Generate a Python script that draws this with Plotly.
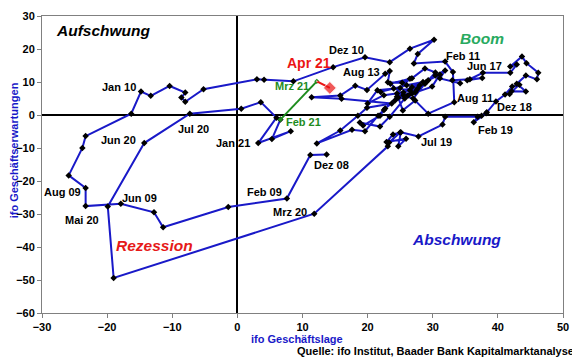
import plotly.graph_objects as go

monate = [
    "Dez 08",
    "Jan 09", "Feb 09", "Mrz 09", "Apr 09", "Mai 09", "Jun 09", "Jul 09", "Aug 09", "Sep 09", "Okt 09", "Nov 09", "Dez 09",
    "Jan 10", "Feb 10", "Mrz 10", "Apr 10", "Mai 10", "Jun 10", "Jul 10", "Aug 10", "Sep 10", "Okt 10", "Nov 10", "Dez 10",
    "Jan 11", "Feb 11", "Mrz 11", "Apr 11", "Mai 11", "Jun 11", "Jul 11", "Aug 11", "Sep 11", "Okt 11", "Nov 11", "Dez 11",
    "Jan 12", "Feb 12", "Mrz 12", "Apr 12", "Mai 12", "Jun 12", "Jul 12", "Aug 12", "Sep 12", "Okt 12", "Nov 12", "Dez 12",
    "Jan 13", "Feb 13", "Mrz 13", "Apr 13", "Mai 13", "Jun 13", "Jul 13", "Aug 13", "Sep 13", "Okt 13", "Nov 13", "Dez 13",
    "Jan 14", "Feb 14", "Mrz 14", "Apr 14", "Mai 14", "Jun 14", "Jul 14", "Aug 14", "Sep 14", "Okt 14", "Nov 14", "Dez 14",
    "Jan 15", "Feb 15", "Mrz 15", "Apr 15", "Mai 15", "Jun 15", "Jul 15", "Aug 15", "Sep 15", "Okt 15", "Nov 15", "Dez 15",
    "Jan 16", "Feb 16", "Mrz 16", "Apr 16", "Mai 16", "Jun 16", "Jul 16", "Aug 16", "Sep 16", "Okt 16", "Nov 16", "Dez 16",
    "Jan 17", "Feb 17", "Mrz 17", "Apr 17", "Mai 17", "Jun 17", "Jul 17", "Aug 17", "Sep 17", "Okt 17", "Nov 17", "Dez 17",
    "Jan 18", "Feb 18", "Mrz 18", "Apr 18", "Mai 18", "Jun 18", "Jul 18", "Aug 18", "Sep 18", "Okt 18", "Nov 18", "Dez 18",
    "Jan 19", "Feb 19", "Mrz 19", "Apr 19", "Mai 19", "Jun 19", "Jul 19", "Aug 19", "Sep 19", "Okt 19", "Nov 19", "Dez 19",
    "Jan 20", "Feb 20", "Mrz 20", "Apr 20", "Mai 20", "Jun 20", "Jul 20", "Aug 20", "Sep 20", "Okt 20", "Nov 20", "Dez 20",
    "Jan 21", "Feb 21", "Mrz 21", "Apr 21",
]

# ifo Geschaeftslage (x)
lage = [
    13.7,
    11.2, 7.6, -1.4, -11.4, -12.8, -17.9, -23.3, -23.3, -25.9, -23.8, -23.3, -16.3,
    -14.8, -13.3, -10.4, -8.0, -8.6, -8.0, -5.2, 3.0, 4.1, 8.6, 14.7, 19.6,
    23.4, 26.5, 30.2, 27.7, 27.1, 31.9, 33.1, 33.3, 29.3, 27.3, 25.4, 24.7,
    26.8, 28.8, 27.7, 26.2, 24.2, 22.7, 21.6, 19.6, 17.6, 12.2, 15.8, 18.5,
    19.9, 23.7, 16.0, 11.4, 15.8, 18.1, 19.9, 22.7, 23.4, 23.1, 25.3, 26.8,
    28.8, 30.4, 29.3, 31.1, 29.9, 27.3, 25.7, 23.4, 21.9, 18.8, 19.3, 21.9,
    22.5, 24.5, 26.8, 28.5, 26.0, 22.0, 24.0, 27.5, 25.5, 23.5, 26.5, 25.0,
    21.5, 20.0, 22.5, 25.5, 28.0, 26.5, 24.5, 27.0, 29.0, 30.4, 31.9, 31.1,
    34.2, 33.0, 35.7, 37.6, 35.3, 37.7, 41.9, 42.9, 41.9, 43.7, 44.4, 46.2,
    46.0, 44.3, 42.9, 44.3, 42.1, 41.8, 43.3, 42.2, 41.1, 39.7, 38.3, 37.5,
    38.2, 36.3, 36.9, 31.9, 31.5, 27.8, 25.1, 24.7, 25.9, 22.9, 23.9, 25.0,
    23.3, 23.1, 11.8, -19.0, -19.9, -14.3, -7.3, 0.6, 3.6, 6.0, 3.2, 8.2,
    5.3, 6.6, 12.2, 14.2,
]

# ifo Geschaeftserwartungen (y)
erwartungen = [
    -12.0,
    -12.1, -25.3, -27.9, -34.0, -29.5, -26.9, -27.6, -22.1, -18.3, -10.0, -6.4, 0.4,
    7.1, 5.8, 8.8, 6.8, 5.3, 4.0, 7.8, 10.8, 10.7, 10.2, 14.5, 17.5,
    16.0, 20.1, 22.8, 18.5, 15.6, 16.2, 13.0, 3.9, 0.4, 4.4, 1.4, 5.3,
    6.5, 9.5, 8.0, 5.9, 4.4, 2.0, -0.2, -4.9, -4.5, -8.6, -4.7, -0.2,
    2.2, 3.5, 4.9, 5.4, 5.9, 8.9, 7.6, 12.5, 13.3, 9.9, 9.8, 11.1,
    14.1, 12.9, 10.5, 12.3, 8.6, 6.8, 5.0, -0.5, -3.5, -2.3, -3.2, -0.2,
    1.5, 5.5, 8.5, 10.0, 9.0, 7.0, 8.0, 7.5, 6.0, 9.5, 11.0, 8.2,
    7.5, 3.5, 6.0, 6.8, 9.0, 7.5, 6.5, 5.0, 10.0, 12.0, 13.5, 11.1,
    9.6, 10.5, 10.8, 11.2, 10.5, 12.8, 12.8, 15.3, 14.7, 17.7, 15.7, 12.8,
    10.8, 12.0, 9.5, 7.1, 7.2, 6.4, 9.2, 8.6, 6.2, 4.1, 0.8, -0.2,
    0.5, -2.2, -0.5, -0.5, -2.9, -6.5, -5.2, -9.5, -7.2, -8.2, -5.9, -5.3,
    -8.3, -9.5, -29.9, -49.4, -27.7, -8.5, 0.4, 1.9, 3.9, -0.8, -8.5, -4.9,
    -7.3, -1.4, 10.2, 8.2,
]

# labels for selected months: (text, x, y)
punkt_labels = [
    ("Jan 10", -18.2, 8.6), ("Jun 20", -18.2, -7.7), ("Jul 20", -6.8, -4.1),
    ("Jan 21", -0.7, -8.6), ("Aug 09", -26.8, -23.2), ("Mai 20", -23.9, -31.7),
    ("Jun 09", -15.0, -25.0), ("Feb 09", 4.2, -23.2), ("Mrz 20", 8.1, -29.5),
    ("Dez 08", 14.5, -15.0), ("Dez 10", 16.8, 19.8), ("Aug 13", 19.1, 12.9),
    ("Feb 11", 34.7, 18.0), ("Jun 17", 37.9, 15.0), ("Aug 11", 36.5, 5.3),
    ("Dez 18", 42.6, 2.3), ("Feb 19", 39.7, -4.4), ("Jul 19", 30.5, -8.3),
]
gruen_labels = [("Mrz 21", 8.4, 8.9), ("Feb 21", 10.1, -2.0)]
rot_label = ("Apr 21", 11.0, 15.9)

quadranten = [
    ("Aufschwung", -20.6, 25.6, "black"),
    ("Boom", 37.6, 23.2, "rgb(40,170,95)"),
    ("Rezession", -12.7, -39.5, "rgb(230,25,25)"),
    ("Abschwung", 33.7, -37.7, "rgb(25,25,200)"),
]

BLUE = "rgb(25,25,200)"
GREEN = "rgb(30,140,30)"
RED = "rgb(235,20,20)"
FONT = "Liberation Sans, Arial, sans-serif"

i_feb21 = monate.index("Feb 21")
i_mrz21 = monate.index("Mrz 21")

fig = go.Figure()
fig.add_trace(go.Scatter(
    x=lage[:i_feb21 + 1], y=erwartungen[:i_feb21 + 1], text=monate[:i_feb21 + 1],
    mode="lines+markers", line=dict(color=BLUE, width=2),
    marker=dict(symbol="diamond", size=5, color="black"),
    hoverinfo="text+x+y", showlegend=False,
))
fig.add_trace(go.Scatter(
    x=lage[i_feb21:i_mrz21 + 1], y=erwartungen[i_feb21:i_mrz21 + 1],
    mode="lines+markers", line=dict(color=GREEN, width=2),
    marker=dict(symbol="diamond", size=4, color=GREEN), showlegend=False,
))
fig.add_trace(go.Scatter(
    x=lage[i_mrz21:], y=erwartungen[i_mrz21:],
    mode="lines+markers", line=dict(color=RED, width=2),
    marker=dict(symbol="diamond", size=[1, 10], color=RED), showlegend=False,
))

ann = []
for t, x, y in punkt_labels:
    ann.append(dict(text=t, x=x, y=y, xref="x", yref="y", showarrow=False,
                    font=dict(family=FONT, size=11, color="black", weight="bold")))
for t, x, y in gruen_labels:
    ann.append(dict(text=t, x=x, y=y, xref="x", yref="y", showarrow=False,
                    font=dict(family=FONT, size=11, color=GREEN, weight="bold")))
ann.append(dict(text=rot_label[0], x=rot_label[1], y=rot_label[2], xref="x", yref="y",
                showarrow=False, font=dict(family=FONT, size=14, color=RED, weight="bold")))
for t, x, y, c in quadranten:
    ann.append(dict(text="<i>" + t + "</i>", x=x, y=y, xref="x", yref="y", showarrow=False,
                    font=dict(family=FONT, size=15.5, color=c, weight="bold")))
ann.append(dict(text="ifo Geschäftslage", x=0.49, y=-0.087, xref="paper", yref="paper",
                showarrow=False, xanchor="center", yanchor="middle",
                font=dict(family=FONT, size=11, color=BLUE, weight="bold")))
ann.append(dict(text="ifo Geschäftserwartungen", x=-0.053, y=0.549, xref="paper", yref="paper",
                showarrow=False, textangle=-90, xanchor="center", yanchor="middle",
                font=dict(family=FONT, size=11, color=BLUE, weight="bold")))
ann.append(dict(text="Quelle: ifo Institut, Baader Bank Kapitalmarktanalyse", x=1.025, y=-0.128,
                xref="paper", yref="paper", showarrow=False, xanchor="right", yanchor="middle",
                font=dict(family=FONT, size=11, color="black", weight="bold")))

axis_common = dict(
    showgrid=False, showline=True, linecolor="#808080", linewidth=1, mirror=True,
    ticks="outside", ticklen=4, tickcolor="#808080", tickwidth=1,
    zeroline=True, zerolinecolor="black", zerolinewidth=2,
    tickfont=dict(family=FONT, size=11, color="black", weight="bold"),
    dtick=10, automargin=False,
)

# page body has an 8px default margin: size the figure so it fits the window
fig.update_layout(
    width=572, height=351,
    margin=dict(l=34, t=8, r=17, b=46),
    paper_bgcolor="white", plot_bgcolor="white",
    xaxis=dict(range=[-30, 50], tick0=-30, **axis_common),
    yaxis=dict(range=[-60, 30], tick0=-60, **axis_common),
    annotations=ann,
)

fig.write_html("out.html")
